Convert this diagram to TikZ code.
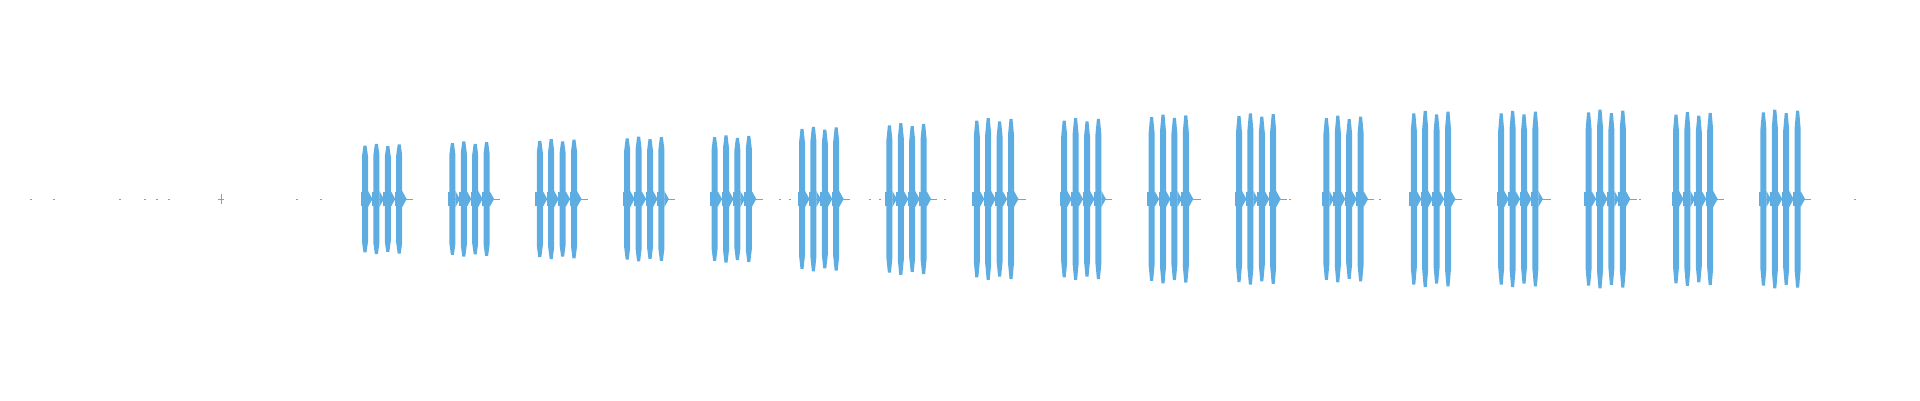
\documentclass[tikz,border=0pt]{standalone}
\definecolor{wave}{HTML}{5DADE2}
\begin{document}
\begin{tikzpicture}[x=1pt,y=-1pt,spike/.style={fill=wave},base/.style={draw=wave,line width=0.8pt}]
\useasboundingbox (0,0) rectangle (1920,400);
\foreach \h [count=\i from 0] in {45,47,49,51,52,59,62,66,66,69,70,68,72,72,73,71,73}{
  \pgfmathsetmacro{\bx}{365+\i*87.4}
  \pgfmathsetmacro{\H}{\h*1.2245}
  \draw[base] (\bx-2,199) -- (\bx+48,199);
  \foreach \k/\f in {0/0.97,1/1.0,2/0.96,3/0.99}{
    \pgfmathsetmacro{\sx}{\bx+\k*11.4}
    \pgfmathsetmacro{\hh}{\H*\f}
    \fill[spike] (\sx-1.5,199-\hh) -- (\sx+1.5,199-\hh) -- (\sx+3,199-0.8*\hh) -- (\sx+3,199+0.8*\hh) -- (\sx+1.5,199+\hh) -- (\sx-1.5,199+\hh) -- (\sx-3,199+0.8*\hh) -- (\sx-3,199-0.8*\hh) -- cycle;
    \fill[spike] (\sx-4.5,192) rectangle (\sx+3,206);
    \fill[spike] (\sx+3,191) -- (\sx+7.5,199) -- (\sx+3,207) -- cycle;
  }
}
\foreach \x in {31,54,120,145,157,169,297,321}{ \fill[wave] (\x-1,198.5) rectangle (\x+1,199.5); }
\draw[wave,line width=0.8pt] (221,194) -- (221,204) (218,199) -- (224,199);
\foreach \x in {780,790,800,870,880,945,1025,1110,1200,1290,1380,1460,1550,1640,1720,1800,1855}{ \fill[wave] (\x-1,198.5) rectangle (\x+1,199.5); }
\end{tikzpicture}
\end{document}
